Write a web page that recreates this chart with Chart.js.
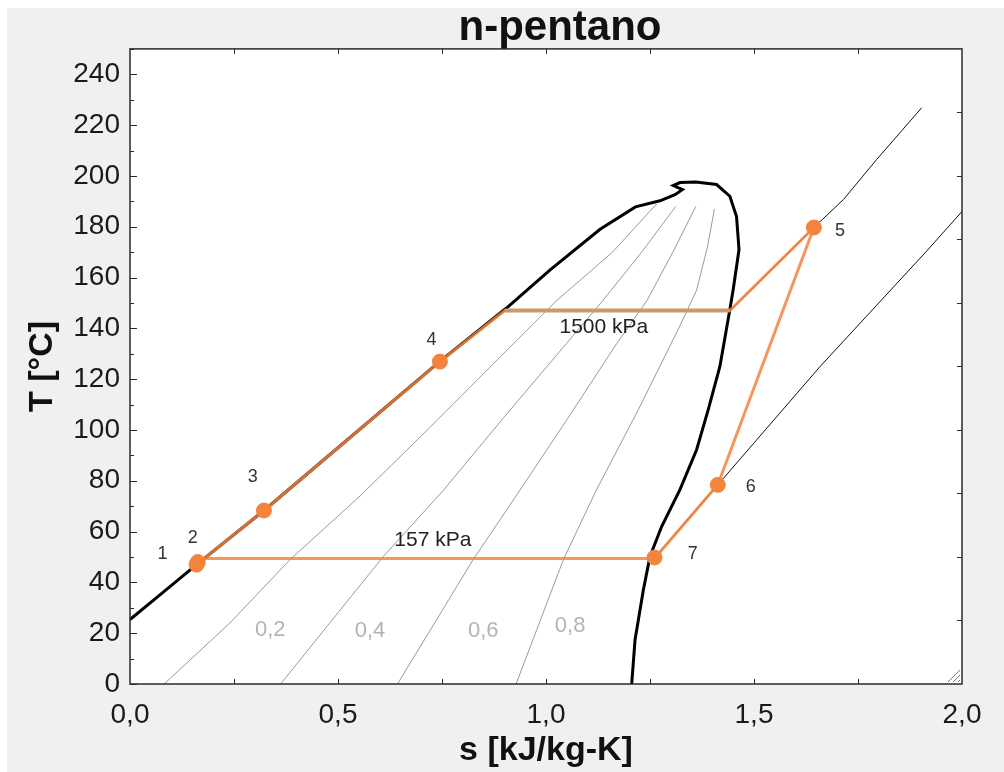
<!DOCTYPE html>
<html>
<head>
<meta charset="utf-8">
<title>n-pentano</title>
<script src="https://cdn.jsdelivr.net/npm/chart.js@4"></script>
<style>
  html, body { margin: 0; padding: 0; background: #fff; }
  #wrap { position: absolute; left: 7px; top: 8px; width: 997px; height: 764px; background: #f0f0f0; }
</style>
</head>
<body>
<div id="wrap"><canvas id="tsChart" width="997" height="764"></canvas></div>
<script>
// cycle states (s in kJ/kg-K, T in °C)
const stateNames = ["1", "2", "3", "4", "5", "6", "7"];
const stateS = [0.163, 0.160, 0.322, 0.745, 1.644, 1.413, 1.261];
const stateT = [48.0, 47.0, 68.3, 126.9, 179.7, 78.4, 49.8];

// cycle path
const cycleS = [0.160, 0.322, 0.745, 0.901, 1.442, 1.644, 1.413, 1.261, 0.172];
const cycleT = [47.0, 68.3, 126.9, 147.0, 147.0, 179.7, 78.4, 49.4, 49.4];

// evaporation at 1500 kPa
const evapS = [0.901, 1.442];
const evapT = [147.0, 147.0];

// saturation dome
const domeS = [0.000, 0.080, 0.160, 0.322, 0.500, 0.745, 0.905, 1.010, 1.130, 1.215, 1.274, 1.310,
  1.328, 1.306, 1.322, 1.360, 1.410, 1.442, 1.458, 1.464, 1.450, 1.442, 1.418, 1.390, 1.362,
  1.322, 1.278, 1.250, 1.234, 1.214, 1.206];
const domeT = [25.4, 36.2, 47.0, 68.3, 93.0, 127.0, 148.0, 163.0, 179.0, 187.8, 190.2, 192.6,
  194.6, 196.2, 197.4, 197.6, 196.6, 192.0, 184.0, 171.0, 155.3, 147.4, 125.0, 108.0, 92.2,
  76.5, 62.0, 50.2, 37.0, 17.3, 0.0];

// superheated isobars
const iso157S = [1.261, 1.413, 1.659, 1.915, 2.000];
const iso157T = [49.8, 78.4, 125.0, 170.4, 186.0];
const iso1500S = [1.442, 1.644, 1.715, 1.795, 1.903];
const iso1500T = [147.0, 179.7, 190.7, 206.5, 226.8];

// constant quality lines
const qualityNames = ["0,2", "0,4", "0,6", "0,8"];
const q02S = [0.082, 0.240, 0.385, 0.553, 0.721, 0.861, 1.026, 1.160, 1.266];
const q02T = [0, 24, 49, 74, 101, 124, 151, 170, 189];
const q04S = [0.362, 0.608, 0.752, 0.899, 1.049, 1.137, 1.230, 1.312];
const q04T = [0, 50, 76, 105, 134, 151, 170, 188];
const q06S = [0.643, 0.825, 0.930, 1.050, 1.170, 1.243, 1.305, 1.360];
const q06T = [0, 49, 74.5, 104, 134, 151, 170, 188];
const q08S = [0.928, 1.042, 1.120, 1.222, 1.322, 1.362, 1.388, 1.405];
const q08T = [0, 49, 76, 108, 141, 155, 172, 187];

const xTicks = [0, 0.5, 1.0, 1.5, 2.0];

const FONT = "Arial, 'Liberation Sans', sans-serif";
const ORANGE = "#f4843d";

// annotation placement (data units)
const stateLabelPos = [[0.078, 51.1], [0.151, 57.6], [0.295, 81.6], [0.725, 135.5],
  [1.707, 178.5], [1.492, 77.7], [1.353, 51.2]];
const qualityLabelPos = [[0.337, 21.3], [0.577, 20.9], [0.849, 20.9], [1.058, 22.9]];
const pressureLabels = [["1500 kPa", 1.139, 140.5], ["157 kPa", 0.728, 56.7]];

function pts(xs, ys) {
  return xs.map((x, i) => ({ x: x, y: ys[i] }));
}

function line(data, color, width, order) {
  return {
    data: data, showLine: true, borderColor: color, borderWidth: width,
    pointRadius: 0, pointHoverRadius: 0, fill: false, tension: 0, order: order
  };
}

const qualityData = [[q02S, q02T], [q04S, q04T], [q06S, q06T], [q08S, q08T]];

const datasets = [
  {
    data: pts(stateS, stateT), showLine: false, pointRadius: 7.5, pointStyle: "circle",
    backgroundColor: ORANGE, borderColor: ORANGE, borderWidth: 1, order: 0
  },
  line(pts(evapS, evapT), "#c99a6b", 4, 1),
  line(pts(cycleS, cycleT), "rgba(244,132,61,0.85)", 3, 2),
  line(pts(domeS, domeT), "#000", 3, 3),
  line(pts(iso157S, iso157T), "#111", 1, 4),
  line(pts(iso1500S, iso1500T), "#111", 1, 4)
];
qualityData.forEach(q => datasets.push(line(pts(q[0], q[1]), "#9a9a9a", 1, 5)));

const decor = {
  id: "decor",
  afterLayout(chart) {
    // title sits a little right of the plot centre
    if (chart.titleBlock) {
      chart.titleBlock.left += 14;
      chart.titleBlock.right += 14;
    }
  },
  beforeDraw(chart) {
    const a = chart.chartArea, c = chart.ctx;
    c.save();
    c.fillStyle = "#fff";
    c.fillRect(a.left, a.top, a.right - a.left, a.bottom - a.top);
    c.restore();
  },
  afterDraw(chart) {
    const a = chart.chartArea, c = chart.ctx;
    const xs = chart.scales.x, ys = chart.scales.y;
    c.save();
    // frame
    c.strokeStyle = "#2a2a2a";
    c.lineWidth = 1.5;
    c.strokeRect(a.left, a.top, a.right - a.left, a.bottom - a.top);
    // tick marks
    c.lineWidth = 1;
    c.beginPath();
    for (let t = 0; t <= 250; t += 10) {
      const y = Math.round(ys.getPixelForValue(t)) + 0.5;
      const len = t % 20 === 0 ? 7 : 4;
      c.moveTo(a.left, y); c.lineTo(a.left + len, y);
    }
    for (let t = 25; t < 250; t += 25) {
      const y = Math.round(ys.getPixelForValue(t)) + 0.5;
      c.moveTo(a.right, y); c.lineTo(a.right - 5, y);
    }
    for (let s = 0.25; s < 2; s += 0.25) {
      const x = Math.round(xs.getPixelForValue(s)) + 0.5;
      c.moveTo(x, a.bottom); c.lineTo(x, a.bottom - 5);
      c.moveTo(x, a.top); c.lineTo(x, a.top + 5);
    }
    c.stroke();
    // resize grip
    c.strokeStyle = "#777";
    c.beginPath();
    for (let k = 4; k <= 14; k += 5) {
      c.moveTo(a.right - 2, a.bottom - k); c.lineTo(a.right - k, a.bottom - 2);
    }
    c.stroke();

    c.textAlign = "center";
    c.textBaseline = "middle";
    // quality labels
    c.fillStyle = "#b4b4b4";
    c.font = "22px " + FONT;
    qualityNames.forEach((n, i) => {
      c.fillText(n, xs.getPixelForValue(qualityLabelPos[i][0]), ys.getPixelForValue(qualityLabelPos[i][1]));
    });
    // pressure labels
    c.fillStyle = "#222";
    c.font = "21px " + FONT;
    pressureLabels.forEach(p => {
      c.fillText(p[0], xs.getPixelForValue(p[1]), ys.getPixelForValue(p[2]));
    });
    // state numbers
    c.font = "18px " + FONT;
    c.fillStyle = "#333";
    stateNames.forEach((n, i) => {
      c.fillText(n, xs.getPixelForValue(stateLabelPos[i][0]), ys.getPixelForValue(stateLabelPos[i][1]));
    });
    c.restore();
  }
};

new Chart(document.getElementById("tsChart").getContext("2d"), {
  type: "scatter",
  data: { datasets: datasets },
  options: {
    responsive: false,
    animation: false,
    layout: { padding: { left: 0, right: 42, top: 0, bottom: 0 } },
    plugins: {
      legend: { display: false },
      tooltip: { enabled: false },
      title: {
        display: true,
        text: "n-pentano",
        fullSize: false,
        color: "#111",
        font: { family: FONT, size: 42, weight: "bold", lineHeight: 0.95 },
        padding: { top: 0, bottom: 1 }
      }
    },
    scales: {
      x: {
        type: "linear",
        min: 0, max: 2,
        grid: { display: false, drawTicks: false },
        border: { display: false },
        afterBuildTicks: s => { s.ticks = xTicks.map(v => ({ value: v })); },
        afterFit: s => { s.height = 88; },
        ticks: {
          padding: 14, color: "#1a1a1a", maxRotation: 0, autoSkip: false,
          font: { family: FONT, size: 28 },
          callback: v => Number(v).toFixed(1).replace(".", ",")
        },
        title: {
          display: true, text: "s [kJ/kg-K]", color: "#111",
          font: { family: FONT, size: 34, weight: "bold", lineHeight: 1.2 },
          padding: { top: 0, bottom: 1 }
        }
      },
      y: {
        type: "linear",
        min: 0, max: 250,
        grid: { display: false, drawTicks: false },
        border: { display: false },
        afterFit: s => { s.width = 123; },
        ticks: {
          stepSize: 20, includeBounds: false, padding: 10, color: "#1a1a1a", autoSkip: false,
          font: { family: FONT, size: 28 }
        },
        title: {
          display: true, text: "T [°C]", color: "#111",
          font: { family: FONT, size: 34, weight: "bold", lineHeight: 1.2 },
          padding: { top: 15, bottom: 0 }
        }
      }
    }
  },
  plugins: [decor]
});
</script>
</body>
</html>
